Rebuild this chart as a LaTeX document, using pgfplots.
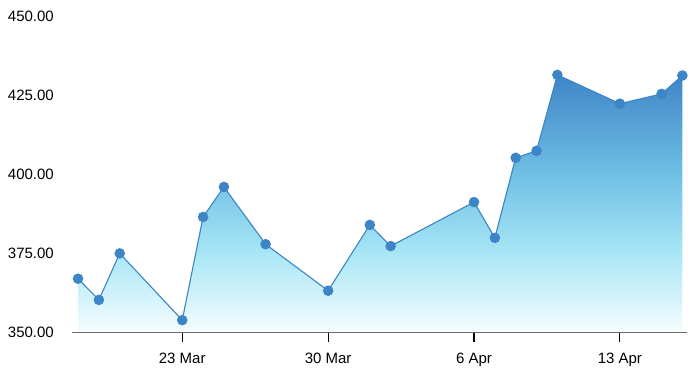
\documentclass[border=0pt]{standalone}
\usepackage{pgfplots}
\pgfplotsset{compat=1.18}
\usepackage{pgfplotstable}
\usepackage{fontspec}
\setmainfont{Liberation Sans}
\definecolor{lineblue}{RGB}{61,133,198}
\definecolor{fillTop}{RGB}{62,134,199}
\definecolor{fillMid}{RGB}{112,192,229}
\definecolor{fillLow}{RGB}{168,230,246}
\definecolor{fillBot}{RGB}{246,253,255}
\definecolor{axisgray}{RGB}{105,105,105}
\pgfdeclareverticalshading{areagrad}{100bp}{color(0bp)=(fillBot); color(25bp)=(fillBot); color(40.5bp)=(fillLow); color(55.5bp)=(fillMid); color(75bp)=(fillTop); color(100bp)=(fillTop)}
\pgfplotstableread{
day value
18 367.0
19 360.3
20 375.0
23 353.9
24 386.5
25 396.0
27 377.9
30 363.2
32 384.0
33 377.3
37 391.2
38 379.9
39 405.2
40 407.4
41 431.4
44 422.3
46 425.4
47 431.2
}\data
\begin{document}
\begin{tikzpicture}[font=\fontsize{15}{18}\selectfont]
\useasboundingbox (0,0) rectangle (691pt,376pt);
\begin{axis}[
  at={(72pt,43.5pt)}, anchor=south west,
  scale only axis, width=615pt, height=316.5pt,
  xmin=17.71, xmax=47.22, ymin=350, ymax=450,
  axis lines*=left,
  axis on top,
  x axis line style={draw=axisgray, line width=1.4pt, -},
  y axis line style={draw=none},
  xtick={23,30,37,44},
  xticklabels={23 Mar,30 Mar,6 Apr,13 Apr},
  ytick={350,375,400,425,450},
  yticklabel={\pgfmathprintnumber[fixed,fixed zerofill,precision=2]{\tick}},
  /pgf/number format/assume math mode=true,
  tick align=outside,
  major tick length=9pt,
  xtick style={draw=black, line width=1.1pt},
  ytick style={draw=none},
  xticklabel style={anchor=north, inner sep=0pt, yshift=-11pt},
  yticklabel style={anchor=east, inner sep=0pt, xshift=-9pt},
  clip=false,
]
\addplot[draw=none, shading=areagrad] table[x=day,y=value] {\data} \closedcycle;
\addplot[lineblue, line width=1.1pt, mark=*, mark size=4.7pt, mark options={fill=lineblue, draw=none}] table[x=day,y=value] {\data};
\end{axis}
\end{tikzpicture}
\end{document}
